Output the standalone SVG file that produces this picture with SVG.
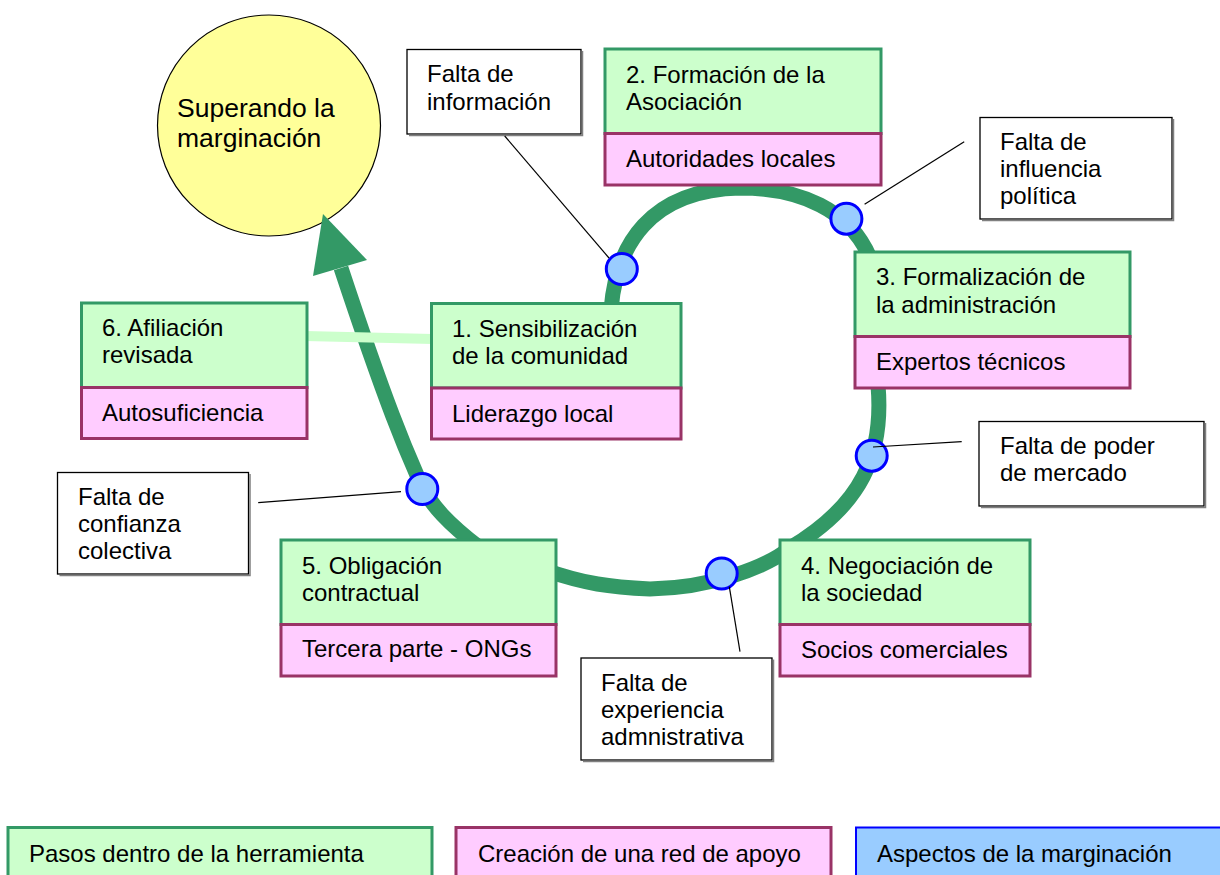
<svg xmlns="http://www.w3.org/2000/svg" width="1220" height="875" viewBox="0 0 1220 875">
<style>
text { font-family: "Liberation Sans", Arial, Helvetica, sans-serif; font-size: 24px; fill: #000; }
.big { font-size: 26.5px; }
.g { fill: #CCFFCC; stroke: #339966; stroke-width: 3; }
.p { fill: #FFCCFF; stroke: #993366; stroke-width: 3; }
.w { fill: #FFFFFF; stroke: #000000; stroke-width: 1.3; }
.sh { fill: none; stroke: #808080; stroke-width: 1.5; }
.dot { fill: #99CCFF; stroke: #0000FF; stroke-width: 3; }
.ln { fill: none; stroke: #000000; stroke-width: 1.2; }
.loop { fill: none; stroke: #339966; stroke-width: 15; }
.bar { fill: none; stroke: #CCFFCC; stroke-width: 10; }
.lb { fill: #99CCFF; stroke: #0000FF; stroke-width: 2; }
</style>
<rect x="0" y="0" width="1220" height="875" fill="#FFFFFF"/>

<g id="goal">
  <ellipse cx="269" cy="125.5" rx="111.5" ry="110.5" fill="#FFFF99" stroke="#000000" stroke-width="1.2"/>
  <text class="big" x="177" y="117">Superando la</text>
  <text class="big" x="177" y="147">marginación</text>
</g>

<g id="connectors">
  <path class="loop" d="M 611 310 C 616 245, 650 190, 740 188 C 800 188, 850 210, 870 258"/>
  <path class="loop" d="M 878 385 C 884 455, 862 505, 790 548 C 765 568, 710 588, 650 589 C 610 587, 585 584, 545 570"/>
  <path class="loop" d="M 480 548 C 450 525, 430 505, 420 482 C 410 459, 392 422, 341 268"/>
  <polygon points="323,214 313,276 367,260" fill="#339966"/>
  <line class="bar" x1="305" y1="336" x2="433" y2="339"/>
</g>

<g id="step1">
  <rect class="g" x="431.5" y="303.5" width="249.5" height="84.5"/>
  <rect class="p" x="431.5" y="388" width="249.5" height="51"/>
  <text x="452" y="336.5">1. Sensibilización</text>
  <text x="452" y="364">de la comunidad</text>
  <text x="452" y="421.5">Liderazgo local</text>
</g>
<g id="step2">
  <rect class="g" x="605" y="49" width="276" height="84.5"/>
  <rect class="p" x="605" y="133.5" width="276" height="51.5"/>
  <text x="626" y="82.5">2. Formación de la</text>
  <text x="626" y="110">Asociación</text>
  <text x="626" y="167">Autoridades locales</text>
</g>
<g id="step3">
  <rect class="g" x="855" y="252" width="275" height="84.5"/>
  <rect class="p" x="855" y="336.5" width="275" height="51.5"/>
  <text x="876" y="285">3. Formalización de</text>
  <text x="876" y="312.5">la administración</text>
  <text x="876" y="369.5">Expertos técnicos</text>
</g>
<g id="step4">
  <rect class="g" x="780" y="540" width="250" height="84.5"/>
  <rect class="p" x="780" y="624.5" width="250" height="51.5"/>
  <text x="801" y="573.5">4. Negociación de</text>
  <text x="801" y="601">la sociedad</text>
  <text x="801" y="657.5">Socios comerciales</text>
</g>
<g id="step5">
  <rect class="g" x="281" y="540" width="275" height="84.5"/>
  <rect class="p" x="281" y="624.5" width="275" height="51.5"/>
  <text x="302" y="573.5">5. Obligación</text>
  <text x="302" y="601">contractual</text>
  <text x="302" y="657">Tercera parte - ONGs</text>
</g>
<g id="step6">
  <rect class="g" x="81.5" y="303" width="225.5" height="84.5"/>
  <rect class="p" x="81.5" y="387.5" width="225.5" height="51"/>
  <text x="102" y="335.5">6. Afiliación</text>
  <text x="102" y="363">revisada</text>
  <text x="102" y="421">Autosuficiencia</text>
</g>

<g id="issue-informacion">
  <rect class="w" x="407" y="49.5" width="174" height="84.5"/>
  <polyline class="sh" points="582.5,51 582.5,135.5 409,135.5"/>
  <text x="427" y="82">Falta de</text>
  <text x="427" y="110">información</text>
</g>
<g id="issue-influencia">
  <rect class="w" x="980" y="117.5" width="192" height="101.5"/>
  <polyline class="sh" points="1173.5,119 1173.5,220.5 982,220.5"/>
  <text x="1000" y="150">Falta de</text>
  <text x="1000" y="177">influencia</text>
  <text x="1000" y="204">política</text>
</g>
<g id="issue-mercado">
  <rect class="w" x="979" y="421.5" width="225" height="84.5"/>
  <polyline class="sh" points="1205.5,423 1205.5,507.5 981,507.5"/>
  <text x="1000" y="454">Falta de poder</text>
  <text x="1000" y="481">de mercado</text>
</g>
<g id="issue-confianza">
  <rect class="w" x="57.5" y="472.5" width="191" height="101.5"/>
  <polyline class="sh" points="250,474 250,575.5 59.5,575.5"/>
  <text x="78" y="505">Falta de</text>
  <text x="78" y="532">confianza</text>
  <text x="78" y="559">colectiva</text>
</g>
<g id="issue-experiencia">
  <rect class="w" x="581" y="658" width="191" height="102"/>
  <polyline class="sh" points="773.5,659.5 773.5,761.5 583,761.5"/>
  <text x="601" y="691">Falta de</text>
  <text x="601" y="718">experiencia</text>
  <text x="601" y="745">admnistrativa</text>
</g>

<g id="dots">
  <circle class="dot" cx="621.8" cy="269" r="15.5"/>
  <circle class="dot" cx="846.4" cy="218.7" r="15.5"/>
  <circle class="dot" cx="871.7" cy="455.7" r="15.5"/>
  <circle class="dot" cx="721.7" cy="573.5" r="15.5"/>
  <circle class="dot" cx="422.3" cy="489" r="15.5"/>
</g>

<g id="callout-lines">
  <line class="ln" x1="504.7" y1="136" x2="609" y2="258"/>
  <line class="ln" x1="864.6" y1="204.3" x2="964.2" y2="141.7"/>
  <line class="ln" x1="873" y1="447" x2="961.7" y2="441.7"/>
  <line class="ln" x1="401" y1="491.7" x2="258.2" y2="502.7"/>
  <line class="ln" x1="729.3" y1="586.7" x2="740" y2="651.7"/>
</g>

<g id="legend">
  <rect class="g" x="8" y="827.5" width="424" height="60"/>
  <text x="29" y="862">Pasos dentro de la herramienta</text>
  <rect class="p" x="456" y="827.5" width="375" height="60"/>
  <text x="478" y="862">Creación de una red de apoyo</text>
  <rect class="lb" x="856" y="827.5" width="380" height="60"/>
  <text x="877" y="862">Aspectos de la marginación</text>
</g>
</svg>
